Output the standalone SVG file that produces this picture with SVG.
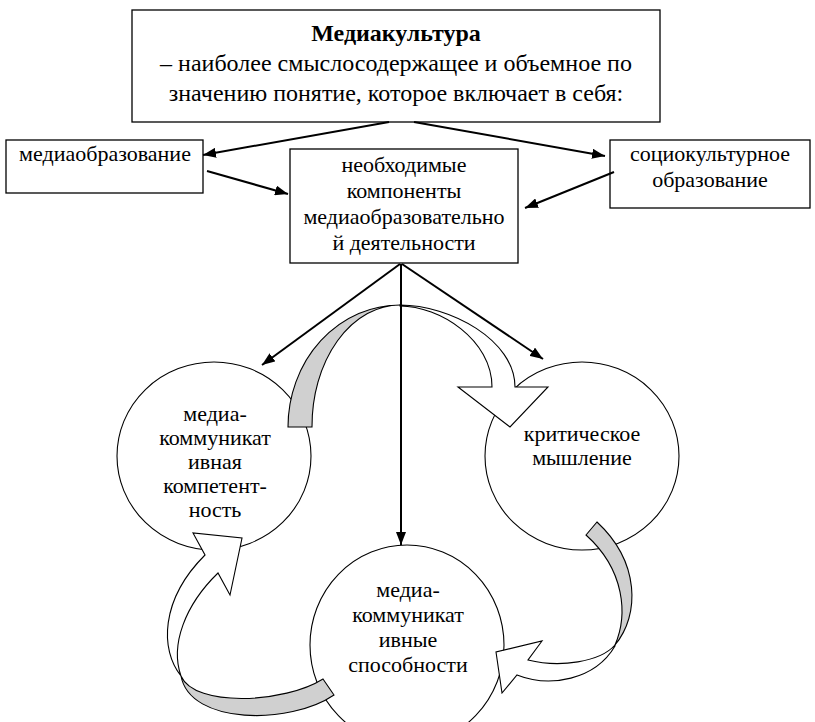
<svg xmlns="http://www.w3.org/2000/svg" width="815" height="722" viewBox="0 0 815 722">
<defs>
<marker id="ah" markerUnits="userSpaceOnUse" markerWidth="14" markerHeight="10" refX="13" refY="5" orient="auto">
<path d="M0,0 L13,5 L0,10 Z" fill="#000"/>
</marker>
</defs>
<rect width="815" height="722" fill="#fff"/>

<g id="node-mediaculture">
<rect x="132" y="10" width="528" height="112" fill="#fff" stroke="#000" stroke-width="1.3"/>
<text x="396" y="41" text-anchor="middle" font-family="Times New Roman" font-size="24" font-weight="bold">Медиакультура</text>
<text x="396" y="71" text-anchor="middle" font-family="Times New Roman" font-size="24">– наиболее смыслосодержащее и объемное по</text>
<text x="396" y="101" text-anchor="middle" font-family="Times New Roman" font-size="24">значению понятие, которое включает в себя:</text>
</g>

<g id="node-mediaeducation">
<rect x="6" y="140" width="197" height="53" fill="#fff" stroke="#000" stroke-width="1.3"/>
<text x="105" y="161" text-anchor="middle" font-family="Times New Roman" font-size="22">медиаобразование</text>
</g>

<g id="node-components">
<rect x="290" y="149" width="228" height="114" fill="#fff" stroke="#000" stroke-width="1.3"/>
<text x="404" y="172" text-anchor="middle" font-family="Times New Roman" font-size="22">необходимые</text>
<text x="404" y="198" text-anchor="middle" font-family="Times New Roman" font-size="22">компоненты</text>
<text x="404" y="224" text-anchor="middle" font-family="Times New Roman" font-size="22">медиаобразовательно</text>
<text x="404" y="250" text-anchor="middle" font-family="Times New Roman" font-size="22">й деятельности</text>
</g>

<g id="node-sociocultural">
<rect x="610" y="140" width="200" height="68" fill="#fff" stroke="#000" stroke-width="1.3"/>
<text x="710" y="161" text-anchor="middle" font-family="Times New Roman" font-size="22">социокультурное</text>
<text x="710" y="187" text-anchor="middle" font-family="Times New Roman" font-size="22">образование</text>
</g>

<g id="node-competence">
<ellipse cx="214" cy="456" rx="97" ry="94" fill="#fff" stroke="#000" stroke-width="1.1"/>
<text x="215" y="421" text-anchor="middle" font-family="Times New Roman" font-size="22">медиа-</text>
<text x="215" y="445" text-anchor="middle" font-family="Times New Roman" font-size="22">коммуникат</text>
<text x="215" y="469" text-anchor="middle" font-family="Times New Roman" font-size="22">ивная</text>
<text x="215" y="493" text-anchor="middle" font-family="Times New Roman" font-size="22">компетент-</text>
<text x="215" y="517" text-anchor="middle" font-family="Times New Roman" font-size="22">ность</text>
</g>

<g id="node-critical">
<ellipse cx="582" cy="456" rx="97" ry="94" fill="#fff" stroke="#000" stroke-width="1.1"/>
<text x="582" y="441" text-anchor="middle" font-family="Times New Roman" font-size="22">критическое</text>
<text x="582" y="465" text-anchor="middle" font-family="Times New Roman" font-size="22">мышление</text>
</g>

<g id="node-abilities">
<ellipse cx="407" cy="645" rx="97" ry="100" fill="#fff" stroke="#000" stroke-width="1.1"/>
<text x="408" y="597" text-anchor="middle" font-family="Times New Roman" font-size="22">медиа-</text>
<text x="408" y="622" text-anchor="middle" font-family="Times New Roman" font-size="22">коммуникат</text>
<text x="408" y="647" text-anchor="middle" font-family="Times New Roman" font-size="22">ивные</text>
<text x="408" y="672" text-anchor="middle" font-family="Times New Roman" font-size="22">способности</text>
</g>

<g id="cycle-arrows" stroke="#000" stroke-width="1.1">
<path fill="#d0d0d0" d="M288,427 A112,122 0 0 1 400,305 A88,121 0 0 0 312,427 Z"/>
<path fill="#fff" d="M400,305 C450,305 515,340 515,387 L548,387 L510,427 L458,387 L492,387 C492,340 440,306 400,306 Z"/>
<path fill="#d0d0d0" d="M586,535 L597,522 C640,562 640,615 615,645 C628,615 625,570 586,535 Z"/>
<path fill="#fff" d="M615,645 C600,662 560,668 528,660 L542,641 L496,652 L502,693 L517,675 C550,688 595,680 615,646 Z"/>
<path fill="#d0d0d0" d="M323,679 L334,695 C290,725 190,725 181,676 C195,708 285,703 323,679 Z"/>
<path fill="#fff" d="M181,676 C160,650 160,600 205,555 L193,533 L242,538 L230,595 L218,573 C185,605 170,645 181,676 Z"/>
</g>

<g id="connectors" stroke="#000" stroke-width="2" fill="none" marker-end="url(#ah)">
<line x1="389" y1="122" x2="203" y2="155"/>
<line x1="414" y1="122" x2="605" y2="156"/>
<line x1="207" y1="171" x2="288" y2="194"/>
<line x1="614" y1="172" x2="525" y2="208"/>
<line x1="400" y1="264" x2="262" y2="365"/>
<line x1="401" y1="264" x2="401" y2="545"/>
<line x1="402" y1="264" x2="543" y2="359"/>
</g>
</svg>
